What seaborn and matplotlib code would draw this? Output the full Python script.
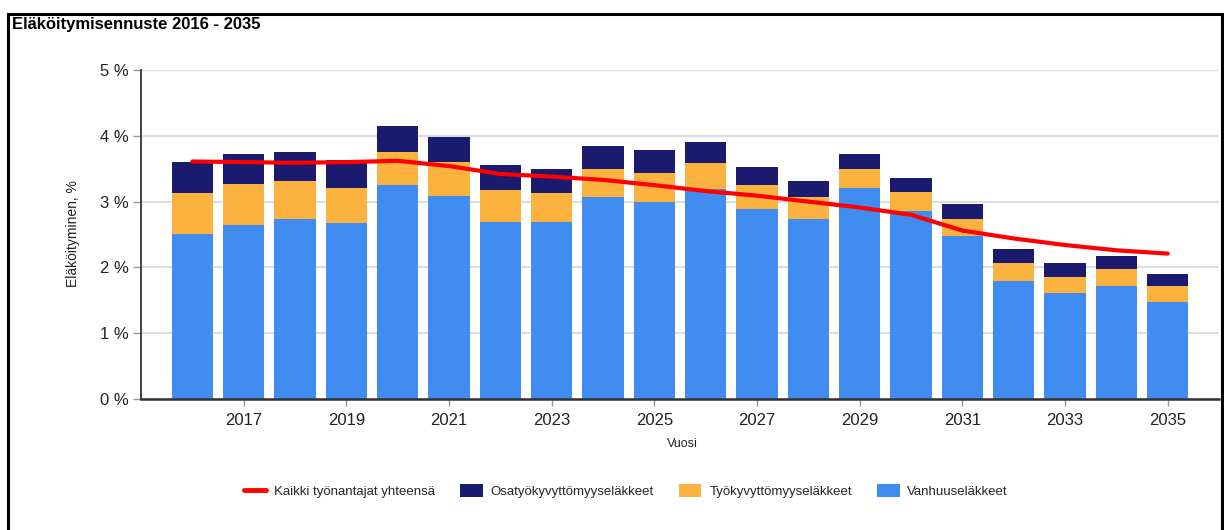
import matplotlib
matplotlib.use("Agg")
import matplotlib.pyplot as plt
from matplotlib.patches import Rectangle
from matplotlib.lines import Line2D
from matplotlib.patches import Patch
import seaborn as sns
import pandas as pd

# Retirement forecast, share of employees retiring per year (%)
years = list(range(2016, 2036))
old_age = [2.51, 2.64, 2.73, 2.67, 3.25, 3.09, 2.69, 2.69, 3.07, 3.00,
           3.19, 2.89, 2.73, 3.20, 2.86, 2.48, 1.80, 1.61, 1.72, 1.47]
disability = [0.62, 0.63, 0.59, 0.54, 0.51, 0.51, 0.49, 0.44, 0.43, 0.44,
              0.39, 0.36, 0.34, 0.30, 0.28, 0.26, 0.27, 0.25, 0.25, 0.24]
partial_disability = [0.47, 0.45, 0.44, 0.42, 0.39, 0.38, 0.37, 0.37, 0.35, 0.34,
                      0.32, 0.28, 0.25, 0.23, 0.22, 0.22, 0.21, 0.21, 0.20, 0.19]
all_employers = [3.61, 3.60, 3.59, 3.60, 3.62, 3.54, 3.42, 3.38, 3.33, 3.25,
                 3.16, 3.09, 3.00, 2.91, 2.80, 2.56, 2.44, 2.34, 2.26, 2.21]

series_labels = ["Kaikki työnantajat yhteensä", "Osatyökyvyttömyyseläkkeet",
                 "Työkyvyttömyyseläkkeet", "Vanhuuseläkkeet"]
tick_years = list(range(2017, 2036, 2))
y_ticks = [0, 1, 2, 3, 4, 5]

C_BLUE = "#418cf0"
C_ORANGE = "#fbb23f"
C_NAVY = "#1a1a6e"
C_RED = "#ff0000"

df = pd.DataFrame({"year": years, "old": old_age, "dis": disability,
                   "part": partial_disability, "all": all_employers})
df["lvl2"] = df["old"] + df["dis"]
df["lvl3"] = df["lvl2"] + df["part"]

sns.set_theme(style="white")
plt.rcParams["font.family"] = ["Liberation Sans", "DejaVu Sans"]

fig = plt.figure(figsize=(12.24, 5.30), dpi=100)
ax = fig.add_axes([141 / 1224, 131 / 530, (1219 - 141) / 1224, (399 - 70) / 530])

# stacked bars: draw cumulative totals from top layer down
sns.barplot(data=df, x="year", y="lvl3", color=C_NAVY, native_scale=True,
            width=0.8, errorbar=None, linewidth=0, saturation=1, ax=ax)
sns.barplot(data=df, x="year", y="lvl2", color=C_ORANGE, native_scale=True,
            width=0.8, errorbar=None, linewidth=0, saturation=1, ax=ax)
sns.barplot(data=df, x="year", y="old", color=C_BLUE, native_scale=True,
            width=0.8, errorbar=None, linewidth=0, saturation=1, ax=ax)
sns.lineplot(data=df, x="year", y="all", color=C_RED, linewidth=3.0, ax=ax,
             zorder=5)

ax.set_xlim(2015.0, 2036.0)
ax.set_ylim(0, 5)
ax.set_yticks(y_ticks)
ax.set_yticklabels([f"{v} %" for v in y_ticks], fontsize=12, color="#222222")
ax.set_xticks(tick_years)
ax.set_xticklabels([str(y) for y in tick_years], fontsize=12, color="#222222")
ax.tick_params(axis="y", which="major", length=6, width=1, color="#999999",
               left=True, pad=3)
ax.tick_params(axis="x", which="major", length=5, width=1, color="#999999",
               bottom=True, pad=5)
ax.set_axisbelow(True)
ax.yaxis.grid(True, color="#dddddd", linewidth=1.5)
ax.xaxis.grid(False)
for s in ("top", "right"):
    ax.spines[s].set_visible(False)
ax.spines["left"].set_color("#333333")
ax.spines["left"].set_linewidth(1.3)
ax.spines["bottom"].set_color("#333333")
ax.spines["bottom"].set_linewidth(1.8)
ax.set_xlabel("")
ax.set_ylabel("")

fig.text(73 / 1224, 1 - 234 / 530, "Eläköityminen, %", rotation=90,
         ha="center", va="center", fontsize=10, color="#222222")
fig.text(682 / 1224, 1 - 444 / 530, "Vuosi", ha="center", va="center",
         fontsize=9, color="#222222")
fig.text(12 / 1224, 1 - 25 / 530, "Eläköitymisennuste 2016 - 2035",
         ha="left", va="center", fontsize=12, fontweight="bold", color="#000000")

handles = [Line2D([0], [0], color=C_RED, linewidth=3.5),
           Patch(facecolor=C_NAVY, edgecolor="none"),
           Patch(facecolor=C_ORANGE, edgecolor="none"),
           Patch(facecolor=C_BLUE, edgecolor="none")]
fig.legend(handles, series_labels, loc="center", ncol=4,
           bbox_to_anchor=(626 / 1224, 1 - 491 / 530), frameon=False,
           fontsize=9.5, handlelength=1.7, handleheight=1.2,
           columnspacing=1.9, handletextpad=0.6)

# outer frame around the figure
fig.add_artist(Rectangle((8 / 1224, -0.05), (1222 - 8) / 1224, 1.05 - 14 / 530,
                         transform=fig.transFigure, fill=False,
                         edgecolor="black", linewidth=2.2))

fig.savefig("out.png", dpi=100, facecolor="white")
